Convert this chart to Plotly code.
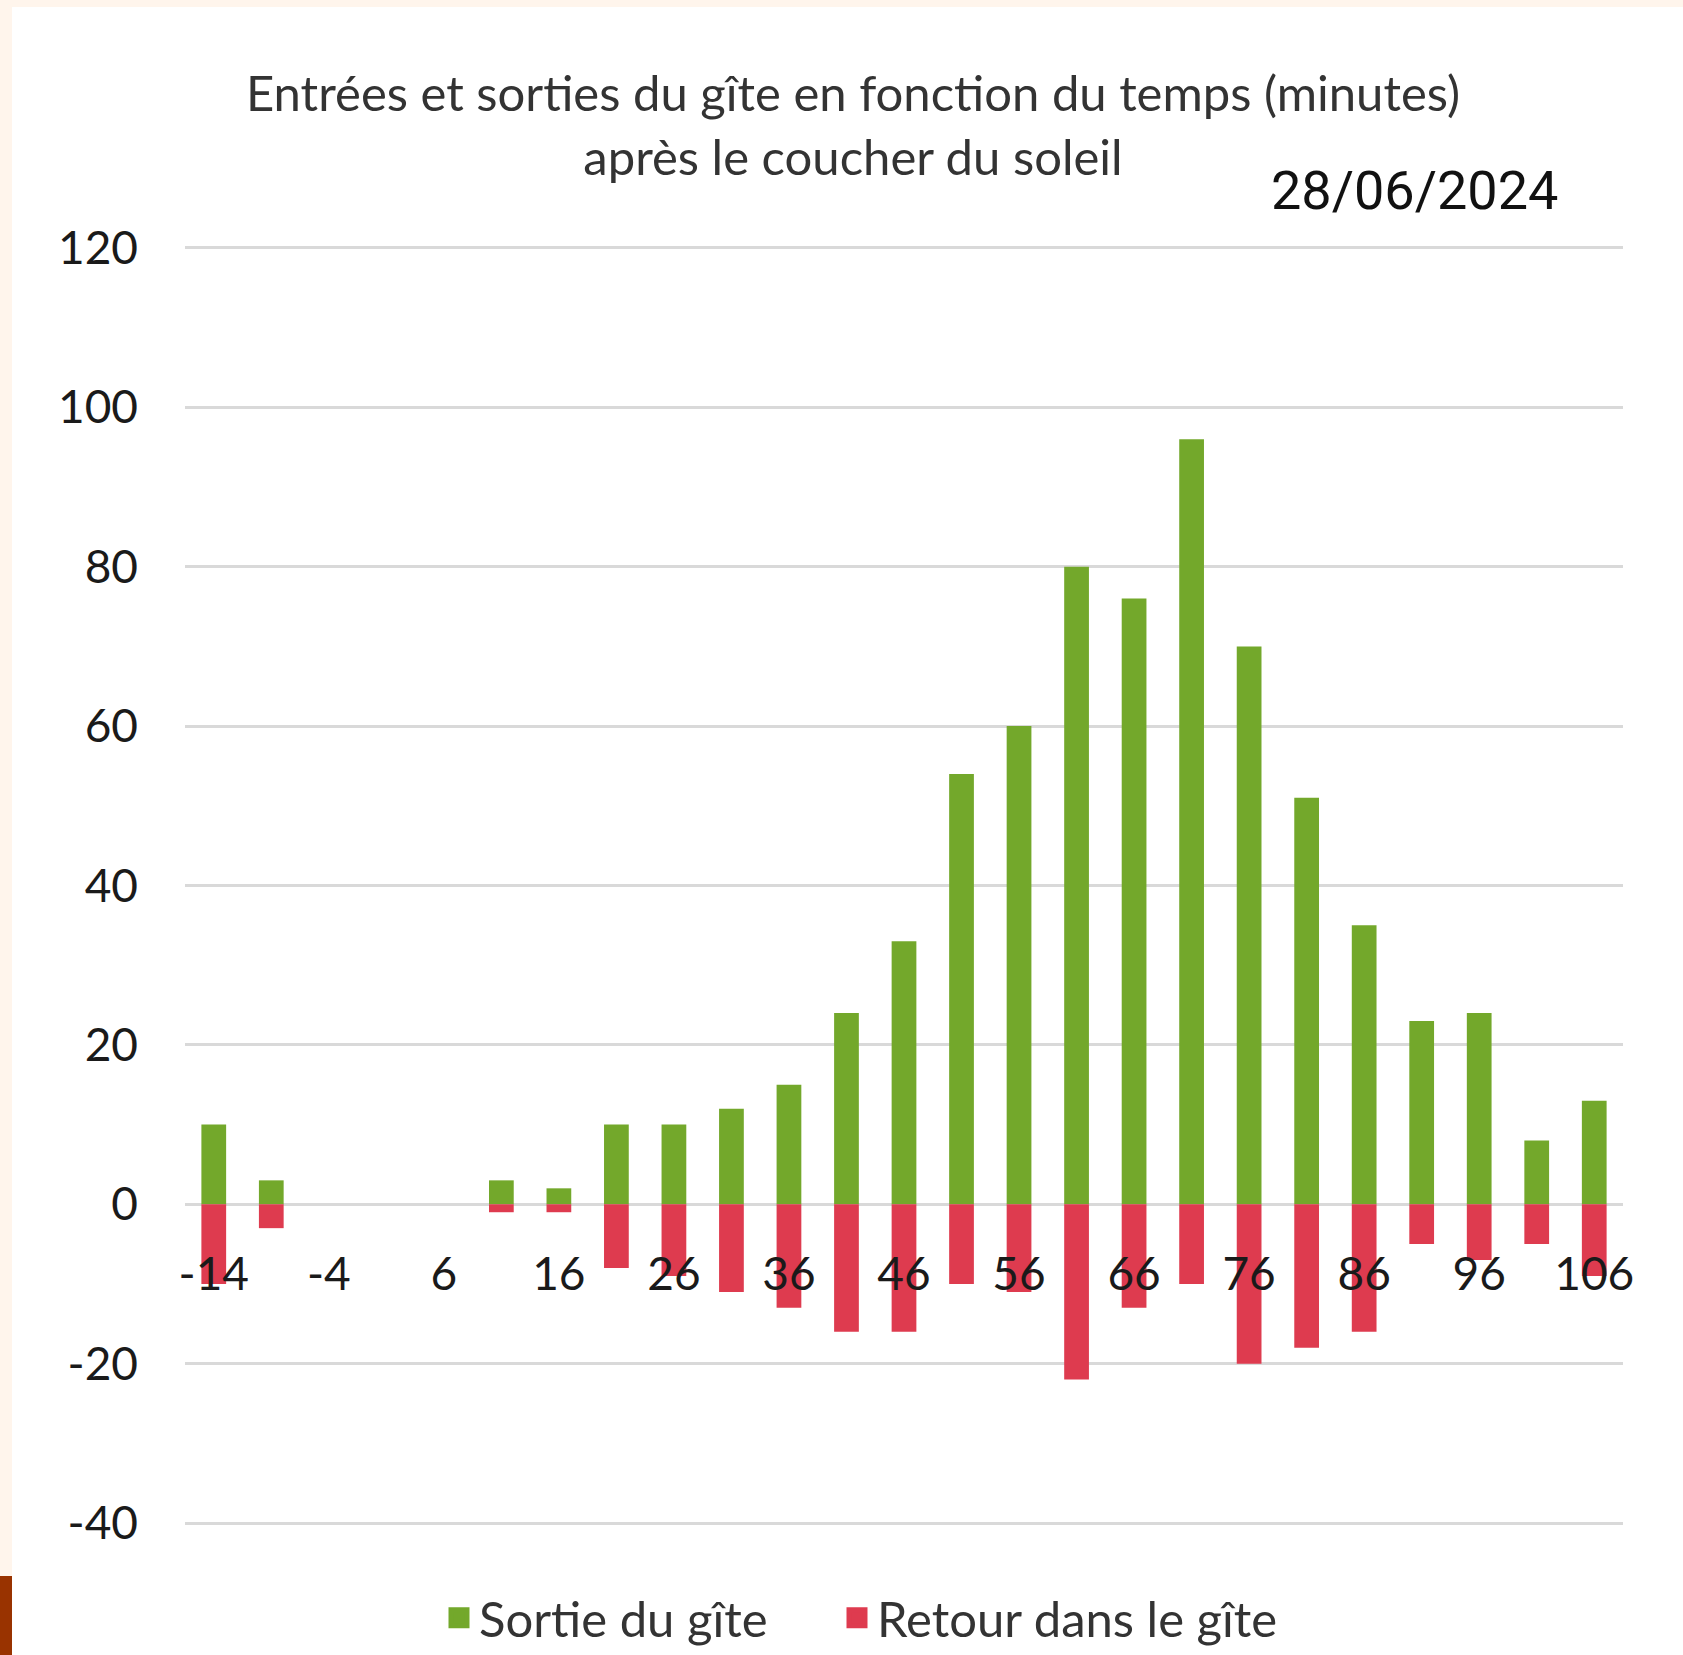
import plotly.graph_objects as go

# ---- data ----
minutes = [-14, -9, -4, 1, 6, 11, 16, 21, 26, 31, 36, 41, 46, 51, 56, 61, 66, 71, 76, 81, 86, 91, 96, 101, 106]
sorties = [10, 3, 0, 0, 0, 3, 2, 10, 10, 12, 15, 24, 33, 54, 60, 80, 76, 96, 70, 51, 35, 23, 24, 8, 13]
retours = [-10, -3, 0, 0, 0, -1, -1, -8, -9, -11, -13, -16, -16, -10, -11, -22, -13, -10, -20, -18, -16, -5, -7, -5, -9]
x_tick_labels = [-14, -4, 6, 16, 26, 36, 46, 56, 66, 76, 86, 96, 106]
y_tick_values = [-40, -20, 0, 20, 40, 60, 80, 100, 120]

series_names = ["Sortie du gîte", "Retour dans le gîte"]
GREEN = "#73A82B"
RED = "#DE3B4F"

W, H = 1683, 1655
# plot area in page pixels
PL, PR, PT, PB = 185, 1623, 244, 1527
L, R, T, B = PL, W - PR, PT, H - PB
PW, PH = PR - PL, PB - PT

Y_RANGE = [-40.5, 120.5]


def px_x(px):
    return (px - PL) / PW


def px_y(py):
    return 1 - (py - PT) / PH


fig = go.Figure()
fig.add_trace(go.Bar(x=minutes, y=sorties, name=series_names[0],
                     marker=dict(color=GREEN, line=dict(width=0)), showlegend=False))
fig.add_trace(go.Bar(x=minutes, y=retours, name=series_names[1],
                     marker=dict(color=RED, line=dict(width=0)), showlegend=False))
# legend entries (square swatches), one legend per series
for nm, col, lg in zip(series_names, [GREEN, RED], ["legend", "legend2"]):
    fig.add_trace(go.Scatter(x=[None], y=[None], mode="markers", name=nm, legend=lg,
                             marker=dict(symbol="square", size=16, color=col,
                                         line=dict(color=col, width=5))))

font_main = "Lato, 'Open Sans', sans-serif"

shapes = [
    dict(type="rect", xref="paper", yref="paper", layer="below",
         x0=px_x(0), x1=px_x(W), y0=px_y(0), y1=px_y(7),
         fillcolor="#FFF5EC", line=dict(width=0)),
    dict(type="rect", xref="paper", yref="paper", layer="below",
         x0=px_x(0), x1=px_x(12), y0=px_y(0), y1=px_y(1576),
         fillcolor="#FFF5EC", line=dict(width=0)),
    dict(type="rect", xref="paper", yref="paper", layer="below",
         x0=px_x(0), x1=px_x(12), y0=px_y(1576), y1=px_y(H),
         fillcolor="#993300", line=dict(width=0)),
]

zero_pos = (0 - Y_RANGE[0]) / (Y_RANGE[1] - Y_RANGE[0])

legend_common = dict(orientation="h", xanchor="left", yanchor="middle",
                     y=px_y(1618),
                     font=dict(size=49, color="#333333", family=font_main),
                     bgcolor="rgba(0,0,0,0)")

fig.update_layout(
    width=W, height=H,
    margin=dict(l=L, r=R, t=T, b=B, pad=0, autoexpand=False),
    paper_bgcolor="white", plot_bgcolor="white",
    barmode="relative", bargap=0.57,
    font=dict(family=font_main, color="#262626"),
    title=dict(text="Entrées et sorties du gîte en fonction du temps (minutes)<br>après le coucher du soleil",
               x=853 / W, xanchor="center", y=1 - 111 / H, yanchor="middle",
               font=dict(size=49, color="#333333", family=font_main)),
    xaxis=dict(range=[-16.5, 108.5], tickmode="array", tickvals=x_tick_labels,
               ticktext=[str(v) for v in x_tick_labels],
               anchor="free", position=zero_pos, showgrid=False, zeroline=False,
               showline=False, ticks="", ticklabelstandoff=39,
               tickfont=dict(size=46, color="#1a1a1a")),
    yaxis=dict(range=Y_RANGE, tickmode="array", tickvals=y_tick_values,
               ticktext=[str(v) for v in y_tick_values],
               showgrid=True, gridcolor="#D9D9D9", gridwidth=3,
               zeroline=True, zerolinecolor="#D9D9D9", zerolinewidth=3,
               showline=False, ticks="", ticklabelstandoff=46,
               tickfont=dict(size=46, color="#1a1a1a")),
    legend=dict(x=px_x(439), **legend_common),
    legend2=dict(x=px_x(837), **legend_common),
    annotations=[dict(text="28/06/2024", xref="paper", yref="paper",
                      x=px_x(1414), y=px_y(191), xanchor="center", yanchor="middle",
                      showarrow=False, font=dict(size=54, color="#111111", family="Roboto"))],
    shapes=shapes,
)

fig.write_html("out.html", config={"displayModeBar": False},
               post_script="document.body.style.margin='0';")
